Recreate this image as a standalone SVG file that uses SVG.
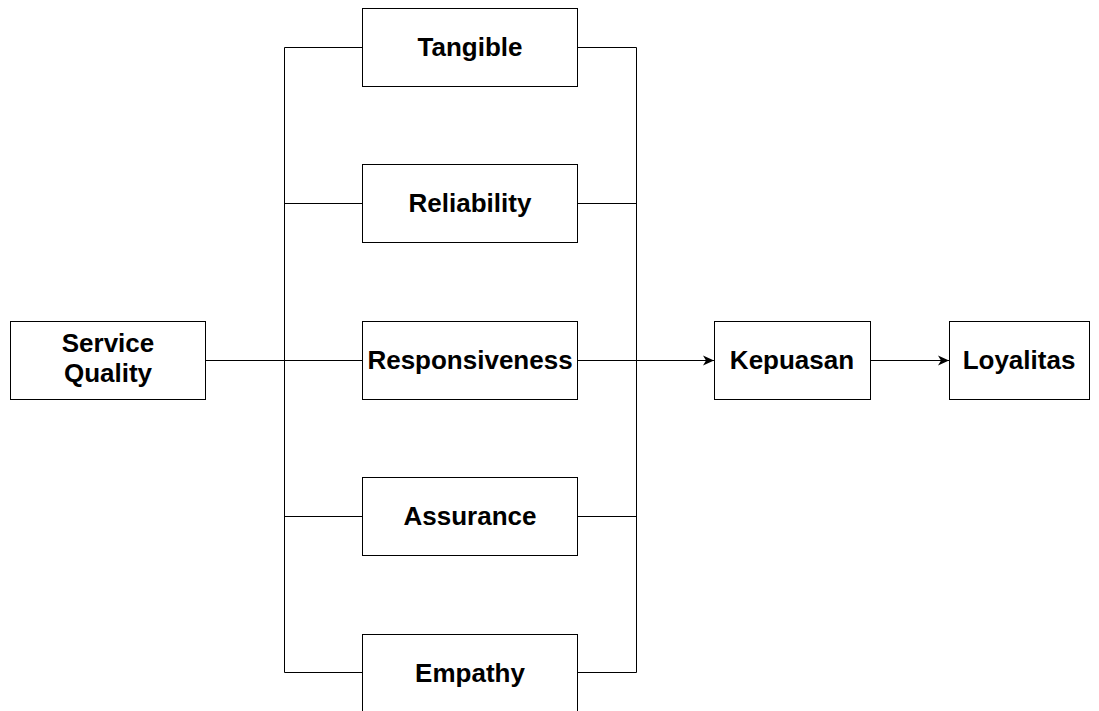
<svg xmlns="http://www.w3.org/2000/svg" width="1099" height="711" viewBox="0 0 1099 711">
<style>
.box{fill:#fff;stroke:#000;stroke-width:1}
.t{font-family:"Liberation Sans",Arial,sans-serif;font-weight:bold;font-size:26px;fill:#000;text-anchor:middle}
.c{fill:none;stroke:#000;stroke-width:1}
</style>
<defs>
<marker id="arr" markerWidth="12" markerHeight="12" refX="11" refY="6" orient="auto" markerUnits="userSpaceOnUse">
<path d="M0,1 L11,6 L0,11 L3,6 Z" fill="#000"/>
</marker>
</defs>
<g id="connectors">
<path class="c" d="M205.5,360.5 H362"/>
<path class="c" d="M284.5,47.5 V672.5"/>
<path class="c" d="M284.5,47.5 H362 M284.5,203.5 H362 M284.5,516.5 H362 M284.5,672.5 H362"/>
<path class="c" d="M636.5,47.5 V672.5"/>
<path class="c" d="M577,47.5 H636.5 M577,203.5 H636.5 M577,516.5 H636.5 M577,672.5 H636.5"/>
<path class="c" d="M577,360.5 H714" marker-end="url(#arr)"/>
<path class="c" d="M871,360.5 H949" marker-end="url(#arr)"/>
</g>
<g id="service-quality"><rect class="box" x="10.5" y="321.5" width="195" height="78"/><text class="t" x="108" y="352">Service</text><text class="t" x="108" y="382">Quality</text></g>
<g id="tangible"><rect class="box" x="362.5" y="8.5" width="215" height="78"/><text class="t" x="470" y="56">Tangible</text></g>
<g id="reliability"><rect class="box" x="362.5" y="164.5" width="215" height="78"/><text class="t" x="470" y="212">Reliability</text></g>
<g id="responsiveness"><rect class="box" x="362.5" y="321.5" width="215" height="78"/><text class="t" x="470" y="369">Responsiveness</text></g>
<g id="assurance"><rect class="box" x="362.5" y="477.5" width="215" height="78"/><text class="t" x="470" y="525">Assurance</text></g>
<g id="empathy"><rect class="box" x="362.5" y="634.5" width="215" height="78"/><text class="t" x="470" y="682">Empathy</text></g>
<g id="kepuasan"><rect class="box" x="714.5" y="321.5" width="156" height="78"/><text class="t" x="792" y="369">Kepuasan</text></g>
<g id="loyalitas"><rect class="box" x="949.5" y="321.5" width="140" height="78"/><text class="t" x="1019" y="369">Loyalitas</text></g>
</svg>
